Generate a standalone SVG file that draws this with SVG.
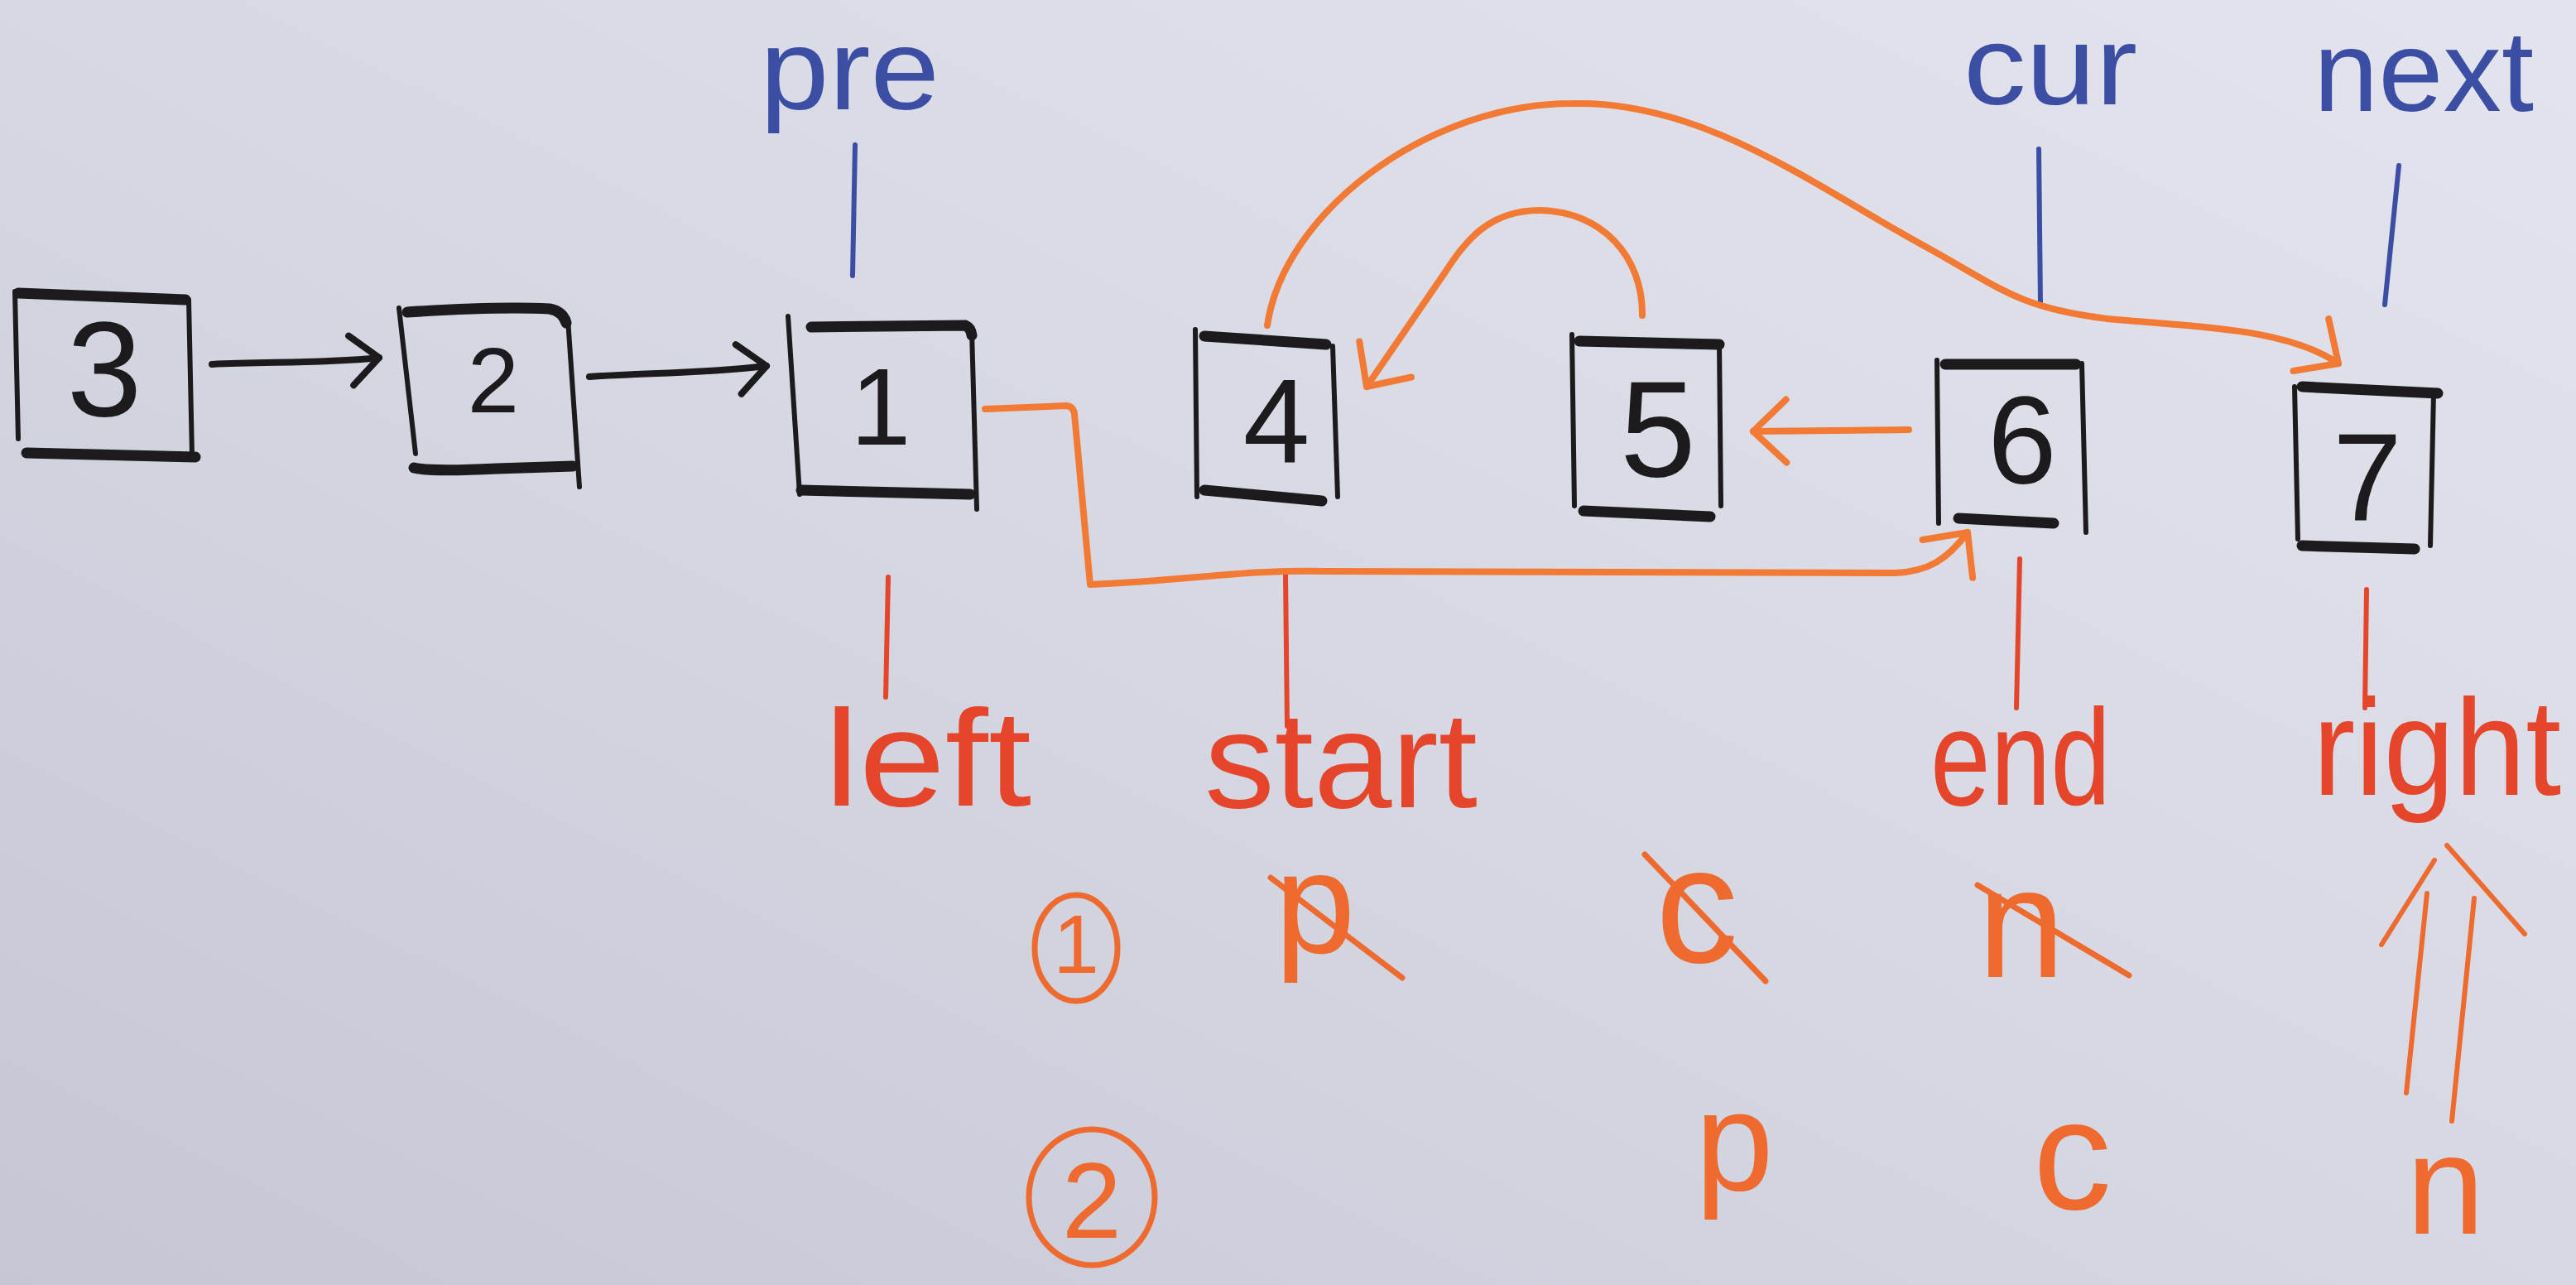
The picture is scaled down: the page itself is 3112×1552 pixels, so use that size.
<svg xmlns="http://www.w3.org/2000/svg" width="3112" height="1552" viewBox="0 0 3112 1552">
<style>
  .bx-h{fill:none;stroke:#1c1a1c;stroke-width:13;stroke-linecap:round}
  .bx-v{fill:none;stroke:#1c1a1c;stroke-width:6;stroke-linecap:round}
  .num{font-family:"Liberation Sans",Arial,sans-serif;fill:#1c1a1c;text-anchor:middle}
  .blue{font-family:"Liberation Sans",Arial,sans-serif;fill:#3b4ea3}
  .red{font-family:"Liberation Sans",Arial,sans-serif;fill:#e5462b;font-size:165px}
  .ora{font-family:"Liberation Sans",Arial,sans-serif;fill:#ee6a2e}
  .tick-b{fill:none;stroke:#3b4ea3;stroke-width:6;stroke-linecap:round}
  .tick-r{fill:none;stroke:#e5462b;stroke-width:6;stroke-linecap:round}
  .arr-k{fill:none;stroke:#1c1a1c;stroke-width:8;stroke-linecap:round;stroke-linejoin:round}
  .arr-o{fill:none;stroke:#f27a35;stroke-width:8;stroke-linecap:round;stroke-linejoin:round}
  .mk{fill:none;stroke-width:8;stroke-linecap:round;stroke-linejoin:round}
  .strike{fill:none;stroke:#ee6a2e;stroke-width:7;stroke-linecap:round}
  .dbl{fill:none;stroke:#ee6a2e;stroke-width:6;stroke-linecap:round}
</style>
<defs>
  <linearGradient id="bg" x1="1" y1="0" x2="0" y2="1">
    <stop offset="0" stop-color="#e3e4ed"/>
    <stop offset="0.5" stop-color="#d6d8e3"/>
    <stop offset="1" stop-color="#c5c7d5"/>
  </linearGradient>
  <marker id="ah-k" viewBox="-50 -40 60 80" refX="0" refY="0" markerWidth="60" markerHeight="80" markerUnits="userSpaceOnUse" orient="auto">
    <path class="mk" stroke="#1c1a1c" d="M -34 -30 L 0 0 L -34 30"/>
  </marker>
  <marker id="ah-o" viewBox="-55 -50 65 100" refX="0" refY="0" markerWidth="65" markerHeight="100" markerUnits="userSpaceOnUse" orient="auto">
    <path class="mk" stroke="#f27a35" d="M -40 -38 L 0 0 L -40 38"/>
  </marker>
</defs>
<rect x="0" y="0" width="3112" height="1552" fill="url(#bg)"/>

<g id="node-3">
  <path class="bx-v" d="M 18,352 L 22,530"/>
  <path class="bx-h" d="M 22,354 L 224,362"/>
  <path class="bx-v" d="M 228,362 L 232,550"/>
  <path class="bx-h" d="M 32,547 L 236,552"/>
  <text class="num" x="126" y="502" font-size="163">3</text>
</g>
<g id="node-2">
  <path class="bx-v" d="M 482,372 L 502,548"/>
  <path class="bx-h" d="M 492,377 Q 600,370 664,373 Q 680,376 684,390"/>
  <path class="bx-v" d="M 686,385 L 700,588"/>
  <path class="bx-h" d="M 500,565 Q 520,570 600,566 L 692,563"/>
  <text class="num" x="596" y="498" font-size="112">2</text>
</g>
<g id="node-1">
  <path class="bx-v" d="M 952,382 L 966,597"/>
  <path class="bx-h" d="M 980,395 L 1166,393 Q 1173,396 1174,405"/>
  <path class="bx-v" d="M 1174,400 L 1180,615"/>
  <path class="bx-h" d="M 968,592 L 1172,597"/>
  <text class="num" x="1064" y="537" font-size="131">1</text>
</g>
<g id="node-4">
  <path class="bx-v" d="M 1444,398 L 1446,600"/>
  <path class="bx-h" d="M 1455,406 L 1602,416"/>
  <path class="bx-v" d="M 1610,418 L 1616,600"/>
  <path class="bx-h" d="M 1455,592 L 1597,605"/>
  <text class="num" x="1542" y="559" font-size="145">4</text>
</g>
<g id="node-5">
  <path class="bx-v" d="M 1899,404 L 1902,611"/>
  <path class="bx-h" d="M 1908,412 L 2077,416"/>
  <path class="bx-v" d="M 2077,414 L 2079,611"/>
  <path class="bx-h" d="M 1913,617 L 2066,624"/>
  <text class="num" x="2003" y="575" font-size="165">5</text>
</g>
<g id="node-6">
  <path class="bx-v" d="M 2340,435 L 2342,632"/>
  <path class="bx-h" d="M 2350,440 L 2508,440"/>
  <path class="bx-v" d="M 2515,439 L 2520,643"/>
  <path class="bx-h" d="M 2366,626 L 2481,632"/>
  <text class="num" x="2443" y="584" font-size="150">6</text>
</g>
<g id="node-7">
  <path class="bx-v" d="M 2772,467 L 2776,651"/>
  <path class="bx-h" d="M 2781,467 L 2945,475"/>
  <path class="bx-v" d="M 2940,475 L 2936,659"/>
  <path class="bx-h" d="M 2781,659 L 2917,663"/>
  <text class="num" x="2860" y="628" font-size="150">7</text>
</g>

<g id="labels">
  <text class="blue" x="918" y="132" font-size="140" textLength="217" lengthAdjust="spacingAndGlyphs">pre</text>
  <text class="blue" x="2372" y="126" font-size="135" textLength="210" lengthAdjust="spacingAndGlyphs">cur</text>
  <text class="blue" x="2795" y="134" font-size="140" textLength="266" lengthAdjust="spacingAndGlyphs">next</text>
  <text class="red" x="996" y="973" textLength="250" lengthAdjust="spacingAndGlyphs">left</text>
  <text class="red" x="1455" y="975" textLength="330" lengthAdjust="spacingAndGlyphs">start</text>
  <text class="red" x="2332" y="972" textLength="218" lengthAdjust="spacingAndGlyphs">end</text>
  <text class="red" x="2794" y="960" textLength="300" lengthAdjust="spacingAndGlyphs">right</text>
</g>

<g id="step-1">
  <ellipse cx="1300" cy="1145" rx="50" ry="64" fill="none" stroke="#ee6a2e" stroke-width="7"/>
  <text class="ora" x="1300" y="1175" font-size="100" text-anchor="middle">1</text>
  <text class="ora" x="1540" y="1151" font-size="175">p</text>
  <line class="strike" x1="1535" y1="1060" x2="1694" y2="1181"/>
  <text class="ora" x="2000" y="1162" font-size="200">c</text>
  <line class="strike" x1="1987" y1="1032" x2="2133" y2="1185"/>
  <text class="ora" x="2389" y="1180" font-size="190">n</text>
  <line class="strike" x1="2389" y1="1069" x2="2572" y2="1178"/>
</g>
<g id="step-2">
  <ellipse cx="1319" cy="1446" rx="76" ry="82" fill="none" stroke="#ee6a2e" stroke-width="7"/>
  <text class="ora" x="1319" y="1495" font-size="130" text-anchor="middle">2</text>
  <text class="ora" x="2048" y="1438" font-size="170">p</text>
  <text class="ora" x="2456" y="1460" font-size="190">c</text>
  <text class="ora" x="2907" y="1490" font-size="170">n</text>
</g>

<g id="connectors">
  <path class="tick-b" d="M 1033,175 L 1030,333"/>
  <path class="tick-b" d="M 2463,180 L 2465,368"/>
  <path class="tick-b" d="M 2898,200 L 2881,368"/>
  <path class="tick-r" d="M 1073,697 L 1070,842"/>
  <path class="tick-r" d="M 1553,693 L 1555,877"/>
  <path class="tick-r" d="M 2440,675 L 2436,855"/>
  <path class="tick-r" d="M 2859,712 L 2857,855"/>

  <path class="arr-k" marker-end="url(#ah-k)" d="M 256,440 C 320,436 380,440 458,432"/>
  <path class="arr-k" marker-end="url(#ah-k)" d="M 712,455 C 780,450 840,452 926,442"/>

  <path class="arr-o" marker-end="url(#ah-o)" d="M 1190,494 L 1288,490 Q 1297,491 1298,500 L 1317,706 C 1450,700 1500,688 1600,690 L 2290,692 C 2330,690 2352,676 2377,643"/>
  <path class="arr-o" marker-end="url(#ah-o)" d="M 2306,519 L 2118,521"/>
  <path class="arr-o" marker-end="url(#ah-o)" d="M 1984,381 C 1985,310 1935,255 1860,254 C 1800,254 1770,290 1745,330 L 1651,467"/>
  <path class="arr-o" marker-end="url(#ah-o)" d="M 1531,393 C 1550,260 1720,125 1900,125 C 2060,121 2200,230 2330,300 C 2420,350 2440,372 2546,385 C 2650,395 2760,395 2825,439"/>

  <g id="double-arrow">
    <path class="dbl" d="M 2907,1320 L 2932,1079"/>
    <path class="dbl" d="M 2962,1354 L 2989,1085"/>
    <path class="dbl" d="M 2877,1141 L 2941,1039"/>
    <path class="dbl" d="M 2956,1021 L 3050,1128"/>
  </g>
</g>
</svg>
